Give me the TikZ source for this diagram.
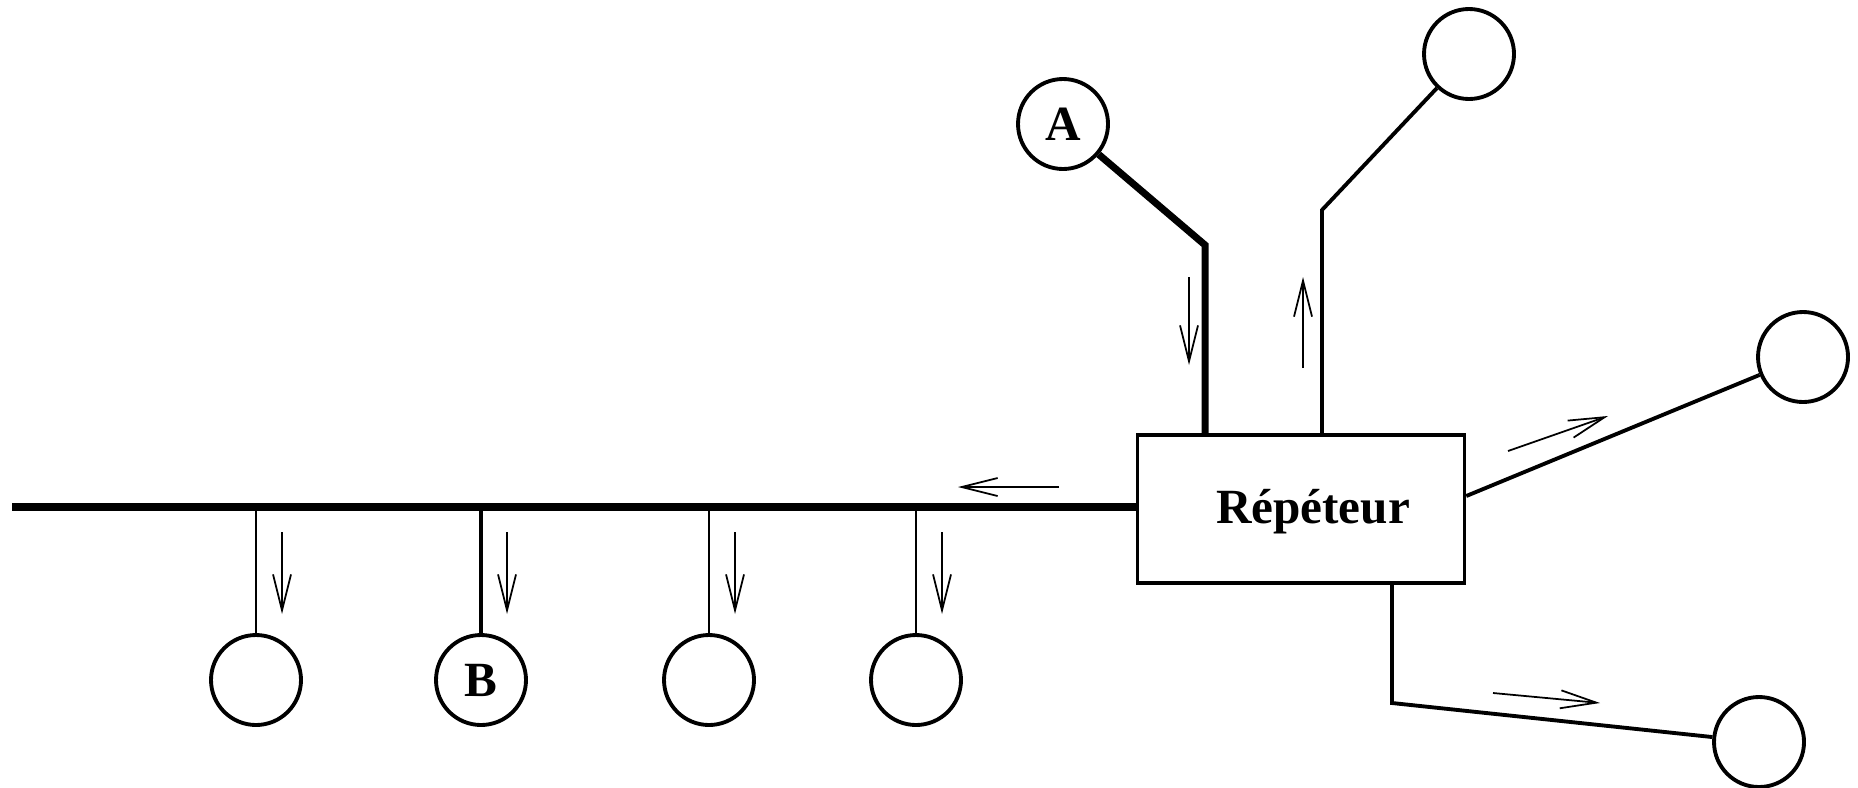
\documentclass[tikz,border=0pt]{standalone}
\usepackage{fontspec}
\setmainfont{Liberation Serif}
\usetikzlibrary{arrows.meta}

\tikzset{
  station/.style={circle,draw,line width=1.1pt,minimum size=9mm,inner sep=0pt,
                  font=\fontsize{14}{16}\selectfont\bfseries},
  repbox/.style={draw,line width=1pt,minimum width=32.7mm,minimum height=14.8mm,inner sep=0pt},
  flow/.style={line width=0.5pt,-{Straight Barb[length=3.6mm,width=1.8mm]}},
  bus/.style={line width=2.5pt},
  link/.style={line width=1.1pt},
  drop/.style={line width=0.55pt}
}

\begin{document}
\begin{tikzpicture}[x=0.1mm,y=-0.1mm]
\useasboundingbox (0,0) rectangle (1858,787);

% repeteur
\node[repbox] (rep) at (1301,509) {};
\node[anchor=base,font=\fontsize{14}{16}\selectfont\bfseries] (reptext) at (1313,523) {Répéteur};

% stations
\node[station] (A) at (1063,124) {A};
\node[station] (T) at (1469,54) {};
\node[station] (R) at (1803,357) {};
\node[station] (D) at (1759,742) {};
\foreach [count=\i] \x/\t in {256/,481/B,709/,916/}
   \node[station] (s\i) at (\x,680) {\t};

% bus
\coordinate (busend) at (12,507);
\draw[bus] (busend) -- (busend -| rep.west);
\foreach \i in {1,3,4}
   \draw[drop] (s\i) -- (s\i |- busend);
\draw[link] (s2) -- (s2 |- busend);

% branches
\coordinate (akink) at (1205,245);
\draw[line width=2pt] (A) -- (akink) -- (akink |- rep.north);
\coordinate (tkink) at (1322,210);
\draw[link] (tkink |- rep.north) -- (tkink) -- (T);
\path (rep.east) ++(0,-13) coordinate (rport);
\draw[link] (rport) -- (R);
\coordinate (dkink) at (1392,703);
\draw[link] (dkink |- rep.south) -- (dkink) -- (D);

% sens de propagation
\draw[flow] (1189,277) -- (1189,365);
\draw[flow] (1303,368) -- (1303,277);
\draw[flow] (1059,487) -- (958,487);
\draw[flow] (1508,451) -- (1608,416);
\draw[flow] (1493,693) -- (1600,703);
\foreach \x in {282,507,735,942}
   \draw[flow] (\x,532) -- (\x,614);
\end{tikzpicture}
\end{document}
